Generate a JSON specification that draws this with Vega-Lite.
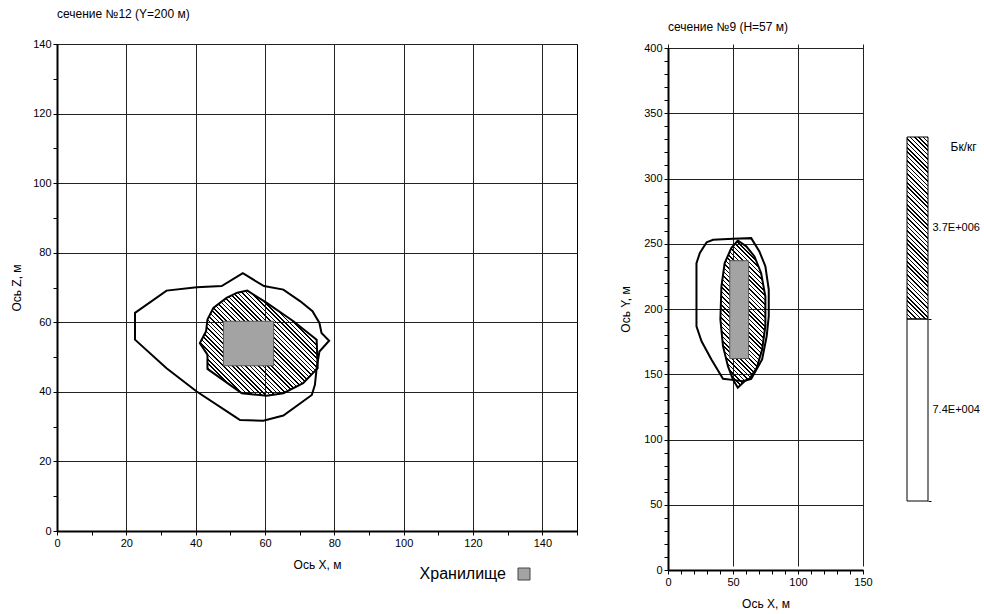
{
  "$schema": "https://vega.github.io/schema/vega-lite/v6.json",
  "padding": {"left": 10, "top": 7, "right": 2, "bottom": 2},
  "datasets": {
    "xz_outer": [
      {"x": 22.5, "y": 62.7}, {"x": 31.6, "y": 69.1}, {"x": 40.3, "y": 70.1}, {"x": 47.5, "y": 70.4},
      {"x": 53.6, "y": 74.1}, {"x": 59.7, "y": 70.4}, {"x": 65.3, "y": 69.4}, {"x": 70.1, "y": 66.1},
      {"x": 73.7, "y": 63.2}, {"x": 75.7, "y": 59.8}, {"x": 76.3, "y": 56.9}, {"x": 78.5, "y": 54.7},
      {"x": 75.7, "y": 51.6}, {"x": 74.9, "y": 46.8}, {"x": 74.4, "y": 42.0}, {"x": 73.5, "y": 39.1},
      {"x": 65.3, "y": 33.2}, {"x": 59.5, "y": 31.7}, {"x": 52.8, "y": 31.9}, {"x": 51.3, "y": 32.9},
      {"x": 40.3, "y": 40.1}, {"x": 31.6, "y": 46.8}, {"x": 22.5, "y": 55.0}
    ],
    "xz_inner": [
      {"x": 41.2, "y": 54.0}, {"x": 43.0, "y": 57.4}, {"x": 43.4, "y": 60.8}, {"x": 45.1, "y": 64.1},
      {"x": 48.9, "y": 67.0}, {"x": 52.0, "y": 68.5}, {"x": 54.9, "y": 69.1}, {"x": 60.5, "y": 65.6},
      {"x": 68.2, "y": 60.3}, {"x": 74.9, "y": 55.0}, {"x": 75.2, "y": 46.8}, {"x": 71.0, "y": 42.5},
      {"x": 65.3, "y": 39.6}, {"x": 60.5, "y": 38.9}, {"x": 53.3, "y": 39.6}, {"x": 49.9, "y": 42.0},
      {"x": 43.4, "y": 46.6}, {"x": 43.4, "y": 50.7}
    ],
    "xz_store": [{"kind": "Хранилище", "x1": 48, "x2": 62.5, "y1": 47.5, "y2": 60.3}],
    "xy_outer": [
      {"x": 29.6, "y": 251.0}, {"x": 34.7, "y": 253.1}, {"x": 50.0, "y": 253.8}, {"x": 64.0, "y": 254.3},
      {"x": 70.3, "y": 244.1}, {"x": 74.9, "y": 232.7}, {"x": 77.5, "y": 214.8}, {"x": 77.5, "y": 194.4},
      {"x": 75.9, "y": 179.1}, {"x": 72.4, "y": 161.3}, {"x": 64.0, "y": 146.5}, {"x": 57.6, "y": 144.7},
      {"x": 51.2, "y": 145.5}, {"x": 42.3, "y": 146.5}, {"x": 33.4, "y": 161.3}, {"x": 25.8, "y": 175.3},
      {"x": 21.9, "y": 186.8}, {"x": 21.9, "y": 235.2}, {"x": 24.5, "y": 242.9}
    ],
    "xy_inner": [
      {"x": 53.7, "y": 252.5}, {"x": 60.2, "y": 248.0}, {"x": 66.5, "y": 240.3}, {"x": 71.6, "y": 227.6},
      {"x": 74.9, "y": 209.7}, {"x": 74.9, "y": 186.8}, {"x": 72.4, "y": 169.0}, {"x": 68.3, "y": 155.0},
      {"x": 62.7, "y": 146.5}, {"x": 58.9, "y": 144.7}, {"x": 53.7, "y": 139.7}, {"x": 50.0, "y": 146.0},
      {"x": 46.1, "y": 156.2}, {"x": 42.3, "y": 171.5}, {"x": 40.3, "y": 191.9}, {"x": 41.1, "y": 217.4},
      {"x": 43.6, "y": 235.2}, {"x": 48.7, "y": 246.7}
    ],
    "xy_store": [{"kind": "Хранилище", "x1": 47.5, "x2": 62, "y1": 162, "y2": 237}],
    "scale_bar": [
      {"level": "3.7E+006", "band": "hatch"},
      {"level": "7.4E+004", "band": "blank"}
    ]
  },
  "bounds": "flush",
  "spacing": 91,
  "hconcat": [
    {
      "width": 520,
      "height": 487,
      "title": {"text": "сечение №12 (Y=200 м)", "offset": 17},
      "layer": [
        {
          "data": {"name": "xz_outer"},
          "mark": {"type": "line", "interpolate": "linear-closed", "stroke": "#000", "strokeWidth": 2},
          "encoding": {
            "x": {"field": "x", "type": "quantitative", "scale": {"domain": [0, 150], "nice": false, "zero": false},
              "axis": {"values": [0,10,20,30,40,50,60,70,80,90,100,110,120,130,140,150], "tickCount": 200, "format": "d",
                "labelExpr": "datum.value % 20 == 0 && datum.value < 150 ? datum.label : ''",
                "grid": true, "gridOpacity": {"condition": {"test": "datum.value % 20 == 0", "value": 1}, "value": 0},
                "title": "Ось X, м", "titlePadding": 11}},
            "y": {"field": "y", "type": "quantitative", "scale": {"domain": [0, 140], "nice": false, "zero": false},
              "axis": {"values": [0,10,20,30,40,50,60,70,80,90,100,110,120,130,140], "tickCount": 200, "format": "d",
                "labelExpr": "datum.value % 20 == 0 ? datum.label : ''",
                "grid": true, "gridOpacity": {"condition": {"test": "datum.value % 20 == 0", "value": 1}, "value": 0},
                "title": "Ось Z, м", "titlePadding": 9}},
            "order": {"value": null}
          }
        },
        {
          "data": {"name": "xz_inner"},
          "mark": {"type": "line", "interpolate": "linear-closed", "stroke": "#000", "strokeWidth": 2,
            "fill": {"gradient": "linear", "x1": 0, "y1": 1, "x2": 1.036, "y2": 0.0765, "stops": [
{"offset":0,"color":"#000"},{"offset":0.007,"color":"#000"},{"offset":0.007,"color":"transparent"},{"offset":0.02,"color":"transparent"},
{"offset":0.02,"color":"#000"},{"offset":0.027,"color":"#000"},{"offset":0.027,"color":"transparent"},{"offset":0.04,"color":"transparent"},
{"offset":0.04,"color":"#000"},{"offset":0.047,"color":"#000"},{"offset":0.047,"color":"transparent"},{"offset":0.06,"color":"transparent"},
{"offset":0.06,"color":"#000"},{"offset":0.067,"color":"#000"},{"offset":0.067,"color":"transparent"},{"offset":0.08,"color":"transparent"},
{"offset":0.08,"color":"#000"},{"offset":0.087,"color":"#000"},{"offset":0.087,"color":"transparent"},{"offset":0.1,"color":"transparent"},
{"offset":0.1,"color":"#000"},{"offset":0.107,"color":"#000"},{"offset":0.107,"color":"transparent"},{"offset":0.12,"color":"transparent"},
{"offset":0.12,"color":"#000"},{"offset":0.127,"color":"#000"},{"offset":0.127,"color":"transparent"},{"offset":0.14,"color":"transparent"},
{"offset":0.14,"color":"#000"},{"offset":0.147,"color":"#000"},{"offset":0.147,"color":"transparent"},{"offset":0.16,"color":"transparent"},
{"offset":0.16,"color":"#000"},{"offset":0.167,"color":"#000"},{"offset":0.167,"color":"transparent"},{"offset":0.18,"color":"transparent"},
{"offset":0.18,"color":"#000"},{"offset":0.187,"color":"#000"},{"offset":0.187,"color":"transparent"},{"offset":0.2,"color":"transparent"},
{"offset":0.2,"color":"#000"},{"offset":0.207,"color":"#000"},{"offset":0.207,"color":"transparent"},{"offset":0.22,"color":"transparent"},
{"offset":0.22,"color":"#000"},{"offset":0.227,"color":"#000"},{"offset":0.227,"color":"transparent"},{"offset":0.24,"color":"transparent"},
{"offset":0.24,"color":"#000"},{"offset":0.247,"color":"#000"},{"offset":0.247,"color":"transparent"},{"offset":0.26,"color":"transparent"},
{"offset":0.26,"color":"#000"},{"offset":0.267,"color":"#000"},{"offset":0.267,"color":"transparent"},{"offset":0.28,"color":"transparent"},
{"offset":0.28,"color":"#000"},{"offset":0.287,"color":"#000"},{"offset":0.287,"color":"transparent"},{"offset":0.3,"color":"transparent"},
{"offset":0.3,"color":"#000"},{"offset":0.307,"color":"#000"},{"offset":0.307,"color":"transparent"},{"offset":0.32,"color":"transparent"},
{"offset":0.32,"color":"#000"},{"offset":0.327,"color":"#000"},{"offset":0.327,"color":"transparent"},{"offset":0.34,"color":"transparent"},
{"offset":0.34,"color":"#000"},{"offset":0.347,"color":"#000"},{"offset":0.347,"color":"transparent"},{"offset":0.36,"color":"transparent"},
{"offset":0.36,"color":"#000"},{"offset":0.367,"color":"#000"},{"offset":0.367,"color":"transparent"},{"offset":0.38,"color":"transparent"},
{"offset":0.38,"color":"#000"},{"offset":0.387,"color":"#000"},{"offset":0.387,"color":"transparent"},{"offset":0.4,"color":"transparent"},
{"offset":0.4,"color":"#000"},{"offset":0.407,"color":"#000"},{"offset":0.407,"color":"transparent"},{"offset":0.42,"color":"transparent"},
{"offset":0.42,"color":"#000"},{"offset":0.427,"color":"#000"},{"offset":0.427,"color":"transparent"},{"offset":0.44,"color":"transparent"},
{"offset":0.44,"color":"#000"},{"offset":0.447,"color":"#000"},{"offset":0.447,"color":"transparent"},{"offset":0.46,"color":"transparent"},
{"offset":0.46,"color":"#000"},{"offset":0.467,"color":"#000"},{"offset":0.467,"color":"transparent"},{"offset":0.48,"color":"transparent"},
{"offset":0.48,"color":"#000"},{"offset":0.487,"color":"#000"},{"offset":0.487,"color":"transparent"},{"offset":0.5,"color":"transparent"},
{"offset":0.5,"color":"#000"},{"offset":0.507,"color":"#000"},{"offset":0.507,"color":"transparent"},{"offset":0.52,"color":"transparent"},
{"offset":0.52,"color":"#000"},{"offset":0.527,"color":"#000"},{"offset":0.527,"color":"transparent"},{"offset":0.54,"color":"transparent"},
{"offset":0.54,"color":"#000"},{"offset":0.547,"color":"#000"},{"offset":0.547,"color":"transparent"},{"offset":0.56,"color":"transparent"},
{"offset":0.56,"color":"#000"},{"offset":0.567,"color":"#000"},{"offset":0.567,"color":"transparent"},{"offset":0.58,"color":"transparent"},
{"offset":0.58,"color":"#000"},{"offset":0.587,"color":"#000"},{"offset":0.587,"color":"transparent"},{"offset":0.6,"color":"transparent"},
{"offset":0.6,"color":"#000"},{"offset":0.607,"color":"#000"},{"offset":0.607,"color":"transparent"},{"offset":0.62,"color":"transparent"},
{"offset":0.62,"color":"#000"},{"offset":0.627,"color":"#000"},{"offset":0.627,"color":"transparent"},{"offset":0.64,"color":"transparent"},
{"offset":0.64,"color":"#000"},{"offset":0.647,"color":"#000"},{"offset":0.647,"color":"transparent"},{"offset":0.66,"color":"transparent"},
{"offset":0.66,"color":"#000"},{"offset":0.667,"color":"#000"},{"offset":0.667,"color":"transparent"},{"offset":0.68,"color":"transparent"},
{"offset":0.68,"color":"#000"},{"offset":0.687,"color":"#000"},{"offset":0.687,"color":"transparent"},{"offset":0.7,"color":"transparent"},
{"offset":0.7,"color":"#000"},{"offset":0.707,"color":"#000"},{"offset":0.707,"color":"transparent"},{"offset":0.72,"color":"transparent"},
{"offset":0.72,"color":"#000"},{"offset":0.727,"color":"#000"},{"offset":0.727,"color":"transparent"},{"offset":0.74,"color":"transparent"},
{"offset":0.74,"color":"#000"},{"offset":0.747,"color":"#000"},{"offset":0.747,"color":"transparent"},{"offset":0.76,"color":"transparent"},
{"offset":0.76,"color":"#000"},{"offset":0.767,"color":"#000"},{"offset":0.767,"color":"transparent"},{"offset":0.78,"color":"transparent"},
{"offset":0.78,"color":"#000"},{"offset":0.787,"color":"#000"},{"offset":0.787,"color":"transparent"},{"offset":0.8,"color":"transparent"},
{"offset":0.8,"color":"#000"},{"offset":0.807,"color":"#000"},{"offset":0.807,"color":"transparent"},{"offset":0.82,"color":"transparent"},
{"offset":0.82,"color":"#000"},{"offset":0.827,"color":"#000"},{"offset":0.827,"color":"transparent"},{"offset":0.84,"color":"transparent"},
{"offset":0.84,"color":"#000"},{"offset":0.847,"color":"#000"},{"offset":0.847,"color":"transparent"},{"offset":0.86,"color":"transparent"},
{"offset":0.86,"color":"#000"},{"offset":0.867,"color":"#000"},{"offset":0.867,"color":"transparent"},{"offset":0.88,"color":"transparent"},
{"offset":0.88,"color":"#000"},{"offset":0.887,"color":"#000"},{"offset":0.887,"color":"transparent"},{"offset":0.9,"color":"transparent"},
{"offset":0.9,"color":"#000"},{"offset":0.907,"color":"#000"},{"offset":0.907,"color":"transparent"},{"offset":0.92,"color":"transparent"},
{"offset":0.92,"color":"#000"},{"offset":0.927,"color":"#000"},{"offset":0.927,"color":"transparent"},{"offset":0.94,"color":"transparent"},
{"offset":0.94,"color":"#000"},{"offset":0.947,"color":"#000"},{"offset":0.947,"color":"transparent"},{"offset":0.96,"color":"transparent"},
{"offset":0.96,"color":"#000"},{"offset":0.967,"color":"#000"},{"offset":0.967,"color":"transparent"},{"offset":0.98,"color":"transparent"},
{"offset":0.98,"color":"#000"},{"offset":0.987,"color":"#000"},{"offset":0.987,"color":"transparent"},{"offset":1,"color":"transparent"}
            ]}},
          "encoding": {
            "x": {"field": "x", "type": "quantitative"},
            "y": {"field": "y", "type": "quantitative"},
            "order": {"value": null}
          }
        },
        {
          "data": {"name": "xz_store"},
          "mark": {"type": "rect", "stroke": "#555", "strokeWidth": 1},
          "encoding": {
            "x": {"field": "x1", "type": "quantitative"},
            "x2": {"field": "x2"},
            "y": {"field": "y1", "type": "quantitative"},
            "y2": {"field": "y2"},
            "fill": {"field": "kind", "type": "nominal", "scale": {"range": ["#a3a3a3"]},
              "legend": {"orient": "none", "legendX": 459, "legendY": 522, "title": null, "padding": 0,
                "symbolType": "square", "symbolSize": 144, "symbolStrokeColor": "#444", "symbolStrokeWidth": 1,
                "labelFontSize": 16, "labelAlign": "right", "labelOffset": -26, "labelColor": "#000", "labelFont": "Liberation Sans"}}
          }
        }
      ]
    },
    {
      "bounds": "flush",
      "spacing": 44,
      "hconcat": [
        {
          "width": 195,
          "height": 526,
          "title": {"text": "сечение №9 (H=57 м)", "offset": 8},
          "view": {"stroke": null},
          "layer": [
            {
              "data": {"name": "xy_outer"},
              "mark": {"type": "line", "interpolate": "linear-closed", "stroke": "#000", "strokeWidth": 2},
              "encoding": {
                "x": {"field": "x", "type": "quantitative", "scale": {"domain": [0, 150], "nice": false, "zero": false},
                  "axis": {"values": [0,10,20,30,40,50,60,70,80,90,100,110,120,130,140,150], "tickCount": 200, "format": "d",
                    "labelExpr": "datum.value % 50 == 0 ? datum.label : ''",
                    "grid": true, "gridOpacity": {"condition": {"test": "datum.value % 50 == 0", "value": 1}, "value": 0},
                    "title": "Ось X, м", "titlePadding": 11}},
                "y": {"field": "y", "type": "quantitative", "scale": {"domain": [0, 400], "nice": false, "zero": false, "range": [526, 4]},
                  "axis": {"values": [0,10,20,30,40,50,60,70,80,90,100,110,120,130,140,150,160,170,180,190,200,210,220,230,240,250,260,270,280,290,300,310,320,330,340,350,360,370,380,390,400], "tickCount": 200, "format": "d",
                    "labelExpr": "datum.value % 50 == 0 ? datum.label : ''",
                    "grid": true, "gridOpacity": {"condition": {"test": "datum.value % 50 == 0", "value": 1}, "value": 0},
                    "title": "Ось Y, м", "titlePadding": 11}},
                "order": {"value": null}
              }
            },
            {
              "data": {"name": "xy_inner"},
              "mark": {"type": "line", "interpolate": "linear-closed", "stroke": "#000", "strokeWidth": 2,
                "fill": {"gradient": "linear", "x1": 0, "y1": 1, "x2": 0.4163, "y2": -0.3619, "stops": [
{"offset":0,"color":"#000"},{"offset":0.007,"color":"#000"},{"offset":0.007,"color":"transparent"},{"offset":0.02,"color":"transparent"},
{"offset":0.02,"color":"#000"},{"offset":0.027,"color":"#000"},{"offset":0.027,"color":"transparent"},{"offset":0.04,"color":"transparent"},
{"offset":0.04,"color":"#000"},{"offset":0.047,"color":"#000"},{"offset":0.047,"color":"transparent"},{"offset":0.06,"color":"transparent"},
{"offset":0.06,"color":"#000"},{"offset":0.067,"color":"#000"},{"offset":0.067,"color":"transparent"},{"offset":0.08,"color":"transparent"},
{"offset":0.08,"color":"#000"},{"offset":0.087,"color":"#000"},{"offset":0.087,"color":"transparent"},{"offset":0.1,"color":"transparent"},
{"offset":0.1,"color":"#000"},{"offset":0.107,"color":"#000"},{"offset":0.107,"color":"transparent"},{"offset":0.12,"color":"transparent"},
{"offset":0.12,"color":"#000"},{"offset":0.127,"color":"#000"},{"offset":0.127,"color":"transparent"},{"offset":0.14,"color":"transparent"},
{"offset":0.14,"color":"#000"},{"offset":0.147,"color":"#000"},{"offset":0.147,"color":"transparent"},{"offset":0.16,"color":"transparent"},
{"offset":0.16,"color":"#000"},{"offset":0.167,"color":"#000"},{"offset":0.167,"color":"transparent"},{"offset":0.18,"color":"transparent"},
{"offset":0.18,"color":"#000"},{"offset":0.187,"color":"#000"},{"offset":0.187,"color":"transparent"},{"offset":0.2,"color":"transparent"},
{"offset":0.2,"color":"#000"},{"offset":0.207,"color":"#000"},{"offset":0.207,"color":"transparent"},{"offset":0.22,"color":"transparent"},
{"offset":0.22,"color":"#000"},{"offset":0.227,"color":"#000"},{"offset":0.227,"color":"transparent"},{"offset":0.24,"color":"transparent"},
{"offset":0.24,"color":"#000"},{"offset":0.247,"color":"#000"},{"offset":0.247,"color":"transparent"},{"offset":0.26,"color":"transparent"},
{"offset":0.26,"color":"#000"},{"offset":0.267,"color":"#000"},{"offset":0.267,"color":"transparent"},{"offset":0.28,"color":"transparent"},
{"offset":0.28,"color":"#000"},{"offset":0.287,"color":"#000"},{"offset":0.287,"color":"transparent"},{"offset":0.3,"color":"transparent"},
{"offset":0.3,"color":"#000"},{"offset":0.307,"color":"#000"},{"offset":0.307,"color":"transparent"},{"offset":0.32,"color":"transparent"},
{"offset":0.32,"color":"#000"},{"offset":0.327,"color":"#000"},{"offset":0.327,"color":"transparent"},{"offset":0.34,"color":"transparent"},
{"offset":0.34,"color":"#000"},{"offset":0.347,"color":"#000"},{"offset":0.347,"color":"transparent"},{"offset":0.36,"color":"transparent"},
{"offset":0.36,"color":"#000"},{"offset":0.367,"color":"#000"},{"offset":0.367,"color":"transparent"},{"offset":0.38,"color":"transparent"},
{"offset":0.38,"color":"#000"},{"offset":0.387,"color":"#000"},{"offset":0.387,"color":"transparent"},{"offset":0.4,"color":"transparent"},
{"offset":0.4,"color":"#000"},{"offset":0.407,"color":"#000"},{"offset":0.407,"color":"transparent"},{"offset":0.42,"color":"transparent"},
{"offset":0.42,"color":"#000"},{"offset":0.427,"color":"#000"},{"offset":0.427,"color":"transparent"},{"offset":0.44,"color":"transparent"},
{"offset":0.44,"color":"#000"},{"offset":0.447,"color":"#000"},{"offset":0.447,"color":"transparent"},{"offset":0.46,"color":"transparent"},
{"offset":0.46,"color":"#000"},{"offset":0.467,"color":"#000"},{"offset":0.467,"color":"transparent"},{"offset":0.48,"color":"transparent"},
{"offset":0.48,"color":"#000"},{"offset":0.487,"color":"#000"},{"offset":0.487,"color":"transparent"},{"offset":0.5,"color":"transparent"},
{"offset":0.5,"color":"#000"},{"offset":0.507,"color":"#000"},{"offset":0.507,"color":"transparent"},{"offset":0.52,"color":"transparent"},
{"offset":0.52,"color":"#000"},{"offset":0.527,"color":"#000"},{"offset":0.527,"color":"transparent"},{"offset":0.54,"color":"transparent"},
{"offset":0.54,"color":"#000"},{"offset":0.547,"color":"#000"},{"offset":0.547,"color":"transparent"},{"offset":0.56,"color":"transparent"},
{"offset":0.56,"color":"#000"},{"offset":0.567,"color":"#000"},{"offset":0.567,"color":"transparent"},{"offset":0.58,"color":"transparent"},
{"offset":0.58,"color":"#000"},{"offset":0.587,"color":"#000"},{"offset":0.587,"color":"transparent"},{"offset":0.6,"color":"transparent"},
{"offset":0.6,"color":"#000"},{"offset":0.607,"color":"#000"},{"offset":0.607,"color":"transparent"},{"offset":0.62,"color":"transparent"},
{"offset":0.62,"color":"#000"},{"offset":0.627,"color":"#000"},{"offset":0.627,"color":"transparent"},{"offset":0.64,"color":"transparent"},
{"offset":0.64,"color":"#000"},{"offset":0.647,"color":"#000"},{"offset":0.647,"color":"transparent"},{"offset":0.66,"color":"transparent"},
{"offset":0.66,"color":"#000"},{"offset":0.667,"color":"#000"},{"offset":0.667,"color":"transparent"},{"offset":0.68,"color":"transparent"},
{"offset":0.68,"color":"#000"},{"offset":0.687,"color":"#000"},{"offset":0.687,"color":"transparent"},{"offset":0.7,"color":"transparent"},
{"offset":0.7,"color":"#000"},{"offset":0.707,"color":"#000"},{"offset":0.707,"color":"transparent"},{"offset":0.72,"color":"transparent"},
{"offset":0.72,"color":"#000"},{"offset":0.727,"color":"#000"},{"offset":0.727,"color":"transparent"},{"offset":0.74,"color":"transparent"},
{"offset":0.74,"color":"#000"},{"offset":0.747,"color":"#000"},{"offset":0.747,"color":"transparent"},{"offset":0.76,"color":"transparent"},
{"offset":0.76,"color":"#000"},{"offset":0.767,"color":"#000"},{"offset":0.767,"color":"transparent"},{"offset":0.78,"color":"transparent"},
{"offset":0.78,"color":"#000"},{"offset":0.787,"color":"#000"},{"offset":0.787,"color":"transparent"},{"offset":0.8,"color":"transparent"},
{"offset":0.8,"color":"#000"},{"offset":0.807,"color":"#000"},{"offset":0.807,"color":"transparent"},{"offset":0.82,"color":"transparent"},
{"offset":0.82,"color":"#000"},{"offset":0.827,"color":"#000"},{"offset":0.827,"color":"transparent"},{"offset":0.84,"color":"transparent"},
{"offset":0.84,"color":"#000"},{"offset":0.847,"color":"#000"},{"offset":0.847,"color":"transparent"},{"offset":0.86,"color":"transparent"},
{"offset":0.86,"color":"#000"},{"offset":0.867,"color":"#000"},{"offset":0.867,"color":"transparent"},{"offset":0.88,"color":"transparent"},
{"offset":0.88,"color":"#000"},{"offset":0.887,"color":"#000"},{"offset":0.887,"color":"transparent"},{"offset":0.9,"color":"transparent"},
{"offset":0.9,"color":"#000"},{"offset":0.907,"color":"#000"},{"offset":0.907,"color":"transparent"},{"offset":0.92,"color":"transparent"},
{"offset":0.92,"color":"#000"},{"offset":0.927,"color":"#000"},{"offset":0.927,"color":"transparent"},{"offset":0.94,"color":"transparent"},
{"offset":0.94,"color":"#000"},{"offset":0.947,"color":"#000"},{"offset":0.947,"color":"transparent"},{"offset":0.96,"color":"transparent"},
{"offset":0.96,"color":"#000"},{"offset":0.967,"color":"#000"},{"offset":0.967,"color":"transparent"},{"offset":0.98,"color":"transparent"},
{"offset":0.98,"color":"#000"},{"offset":0.987,"color":"#000"},{"offset":0.987,"color":"transparent"},{"offset":1,"color":"transparent"}
                ]}},
              "encoding": {
                "x": {"field": "x", "type": "quantitative"},
                "y": {"field": "y", "type": "quantitative"},
                "order": {"value": null}
              }
            },
            {
              "data": {"name": "xy_store"},
              "mark": {"type": "rect", "fill": "#a3a3a3", "stroke": "#555", "strokeWidth": 1},
              "encoding": {
                "x": {"field": "x1", "type": "quantitative"},
                "x2": {"field": "x2"},
                "y": {"field": "y1", "type": "quantitative"},
                "y2": {"field": "y2"}
              }
            }
          ]
        },
        {
          "width": 21,
          "height": 457,
          "data": {"name": "scale_bar"},
          "view": {"stroke": null},
          "layer": [
            {
              "transform": [{"filter": "datum.band == 'blank'"}],
              "mark": {"type": "rect", "fill": "#fff", "stroke": "#000", "strokeWidth": 1},
              "encoding": {
                "y": {"field": "level", "type": "nominal",
                  "scale": {"domain": ["3.7E+006", "7.4E+004"], "paddingInner": 0, "paddingOuter": 0, "range": [93, 457]},
                  "axis": {"orient": "right", "bandPosition": 1, "domain": false, "grid": false, "tickSize": 3, "tickWidth": 1,
                    "labelPadding": 1, "labelFontSize": 11, "labelAngle": 0,
                    "title": "Бк/кг", "titleAngle": 0, "titleX": 22, "titleY": 102, "titleAlign": "left", "titleBaseline": "middle", "titleFontSize": 12}}
              }
            },
            {
              "transform": [{"filter": "datum.band == 'hatch'"}],
              "mark": {"type": "rect", "stroke": "#000", "strokeWidth": 1,
                "fill": {"gradient": "linear", "x1": 0, "y1": 1, "x2": 0.1371, "y2": -0.1886, "stops": [
{"offset":0,"color":"#000"},{"offset":0.007,"color":"#000"},{"offset":0.007,"color":"transparent"},{"offset":0.02,"color":"transparent"},
{"offset":0.02,"color":"#000"},{"offset":0.027,"color":"#000"},{"offset":0.027,"color":"transparent"},{"offset":0.04,"color":"transparent"},
{"offset":0.04,"color":"#000"},{"offset":0.047,"color":"#000"},{"offset":0.047,"color":"transparent"},{"offset":0.06,"color":"transparent"},
{"offset":0.06,"color":"#000"},{"offset":0.067,"color":"#000"},{"offset":0.067,"color":"transparent"},{"offset":0.08,"color":"transparent"},
{"offset":0.08,"color":"#000"},{"offset":0.087,"color":"#000"},{"offset":0.087,"color":"transparent"},{"offset":0.1,"color":"transparent"},
{"offset":0.1,"color":"#000"},{"offset":0.107,"color":"#000"},{"offset":0.107,"color":"transparent"},{"offset":0.12,"color":"transparent"},
{"offset":0.12,"color":"#000"},{"offset":0.127,"color":"#000"},{"offset":0.127,"color":"transparent"},{"offset":0.14,"color":"transparent"},
{"offset":0.14,"color":"#000"},{"offset":0.147,"color":"#000"},{"offset":0.147,"color":"transparent"},{"offset":0.16,"color":"transparent"},
{"offset":0.16,"color":"#000"},{"offset":0.167,"color":"#000"},{"offset":0.167,"color":"transparent"},{"offset":0.18,"color":"transparent"},
{"offset":0.18,"color":"#000"},{"offset":0.187,"color":"#000"},{"offset":0.187,"color":"transparent"},{"offset":0.2,"color":"transparent"},
{"offset":0.2,"color":"#000"},{"offset":0.207,"color":"#000"},{"offset":0.207,"color":"transparent"},{"offset":0.22,"color":"transparent"},
{"offset":0.22,"color":"#000"},{"offset":0.227,"color":"#000"},{"offset":0.227,"color":"transparent"},{"offset":0.24,"color":"transparent"},
{"offset":0.24,"color":"#000"},{"offset":0.247,"color":"#000"},{"offset":0.247,"color":"transparent"},{"offset":0.26,"color":"transparent"},
{"offset":0.26,"color":"#000"},{"offset":0.267,"color":"#000"},{"offset":0.267,"color":"transparent"},{"offset":0.28,"color":"transparent"},
{"offset":0.28,"color":"#000"},{"offset":0.287,"color":"#000"},{"offset":0.287,"color":"transparent"},{"offset":0.3,"color":"transparent"},
{"offset":0.3,"color":"#000"},{"offset":0.307,"color":"#000"},{"offset":0.307,"color":"transparent"},{"offset":0.32,"color":"transparent"},
{"offset":0.32,"color":"#000"},{"offset":0.327,"color":"#000"},{"offset":0.327,"color":"transparent"},{"offset":0.34,"color":"transparent"},
{"offset":0.34,"color":"#000"},{"offset":0.347,"color":"#000"},{"offset":0.347,"color":"transparent"},{"offset":0.36,"color":"transparent"},
{"offset":0.36,"color":"#000"},{"offset":0.367,"color":"#000"},{"offset":0.367,"color":"transparent"},{"offset":0.38,"color":"transparent"},
{"offset":0.38,"color":"#000"},{"offset":0.387,"color":"#000"},{"offset":0.387,"color":"transparent"},{"offset":0.4,"color":"transparent"},
{"offset":0.4,"color":"#000"},{"offset":0.407,"color":"#000"},{"offset":0.407,"color":"transparent"},{"offset":0.42,"color":"transparent"},
{"offset":0.42,"color":"#000"},{"offset":0.427,"color":"#000"},{"offset":0.427,"color":"transparent"},{"offset":0.44,"color":"transparent"},
{"offset":0.44,"color":"#000"},{"offset":0.447,"color":"#000"},{"offset":0.447,"color":"transparent"},{"offset":0.46,"color":"transparent"},
{"offset":0.46,"color":"#000"},{"offset":0.467,"color":"#000"},{"offset":0.467,"color":"transparent"},{"offset":0.48,"color":"transparent"},
{"offset":0.48,"color":"#000"},{"offset":0.487,"color":"#000"},{"offset":0.487,"color":"transparent"},{"offset":0.5,"color":"transparent"},
{"offset":0.5,"color":"#000"},{"offset":0.507,"color":"#000"},{"offset":0.507,"color":"transparent"},{"offset":0.52,"color":"transparent"},
{"offset":0.52,"color":"#000"},{"offset":0.527,"color":"#000"},{"offset":0.527,"color":"transparent"},{"offset":0.54,"color":"transparent"},
{"offset":0.54,"color":"#000"},{"offset":0.547,"color":"#000"},{"offset":0.547,"color":"transparent"},{"offset":0.56,"color":"transparent"},
{"offset":0.56,"color":"#000"},{"offset":0.567,"color":"#000"},{"offset":0.567,"color":"transparent"},{"offset":0.58,"color":"transparent"},
{"offset":0.58,"color":"#000"},{"offset":0.587,"color":"#000"},{"offset":0.587,"color":"transparent"},{"offset":0.6,"color":"transparent"},
{"offset":0.6,"color":"#000"},{"offset":0.607,"color":"#000"},{"offset":0.607,"color":"transparent"},{"offset":0.62,"color":"transparent"},
{"offset":0.62,"color":"#000"},{"offset":0.627,"color":"#000"},{"offset":0.627,"color":"transparent"},{"offset":0.64,"color":"transparent"},
{"offset":0.64,"color":"#000"},{"offset":0.647,"color":"#000"},{"offset":0.647,"color":"transparent"},{"offset":0.66,"color":"transparent"},
{"offset":0.66,"color":"#000"},{"offset":0.667,"color":"#000"},{"offset":0.667,"color":"transparent"},{"offset":0.68,"color":"transparent"},
{"offset":0.68,"color":"#000"},{"offset":0.687,"color":"#000"},{"offset":0.687,"color":"transparent"},{"offset":0.7,"color":"transparent"},
{"offset":0.7,"color":"#000"},{"offset":0.707,"color":"#000"},{"offset":0.707,"color":"transparent"},{"offset":0.72,"color":"transparent"},
{"offset":0.72,"color":"#000"},{"offset":0.727,"color":"#000"},{"offset":0.727,"color":"transparent"},{"offset":0.74,"color":"transparent"},
{"offset":0.74,"color":"#000"},{"offset":0.747,"color":"#000"},{"offset":0.747,"color":"transparent"},{"offset":0.76,"color":"transparent"},
{"offset":0.76,"color":"#000"},{"offset":0.767,"color":"#000"},{"offset":0.767,"color":"transparent"},{"offset":0.78,"color":"transparent"},
{"offset":0.78,"color":"#000"},{"offset":0.787,"color":"#000"},{"offset":0.787,"color":"transparent"},{"offset":0.8,"color":"transparent"},
{"offset":0.8,"color":"#000"},{"offset":0.807,"color":"#000"},{"offset":0.807,"color":"transparent"},{"offset":0.82,"color":"transparent"},
{"offset":0.82,"color":"#000"},{"offset":0.827,"color":"#000"},{"offset":0.827,"color":"transparent"},{"offset":0.84,"color":"transparent"},
{"offset":0.84,"color":"#000"},{"offset":0.847,"color":"#000"},{"offset":0.847,"color":"transparent"},{"offset":0.86,"color":"transparent"},
{"offset":0.86,"color":"#000"},{"offset":0.867,"color":"#000"},{"offset":0.867,"color":"transparent"},{"offset":0.88,"color":"transparent"},
{"offset":0.88,"color":"#000"},{"offset":0.887,"color":"#000"},{"offset":0.887,"color":"transparent"},{"offset":0.9,"color":"transparent"},
{"offset":0.9,"color":"#000"},{"offset":0.907,"color":"#000"},{"offset":0.907,"color":"transparent"},{"offset":0.92,"color":"transparent"},
{"offset":0.92,"color":"#000"},{"offset":0.927,"color":"#000"},{"offset":0.927,"color":"transparent"},{"offset":0.94,"color":"transparent"},
{"offset":0.94,"color":"#000"},{"offset":0.947,"color":"#000"},{"offset":0.947,"color":"transparent"},{"offset":0.96,"color":"transparent"},
{"offset":0.96,"color":"#000"},{"offset":0.967,"color":"#000"},{"offset":0.967,"color":"transparent"},{"offset":0.98,"color":"transparent"},
{"offset":0.98,"color":"#000"},{"offset":0.987,"color":"#000"},{"offset":0.987,"color":"transparent"},{"offset":1,"color":"transparent"}
                ]}},
              "encoding": {
                "y": {"field": "level", "type": "nominal"}
              }
            }
          ]
        }
      ]
    }
  ],
  "config": {
    "font": "Liberation Sans",
    "background": "#ffffff",
    "view": {"stroke": "#000", "strokeWidth": 1},
    "axis": {
      "labelFont": "Liberation Sans", "labelFontSize": 11, "labelColor": "#000",
      "titleFont": "Liberation Sans", "titleFontSize": 12, "titleFontWeight": "normal", "titleColor": "#000",
      "tickColor": "#000", "tickSize": 4, "tickWidth": 1,
      "domainColor": "#000", "domainWidth": 2,
      "gridColor": "#222", "gridWidth": 1,
      "labelPadding": 2, "labelFlush": false, "labelOverlap": false
    },
    "title": {"font": "Liberation Sans", "fontSize": 12, "fontWeight": "normal", "color": "#000", "anchor": "start", "frame": "group"}
  }
}
